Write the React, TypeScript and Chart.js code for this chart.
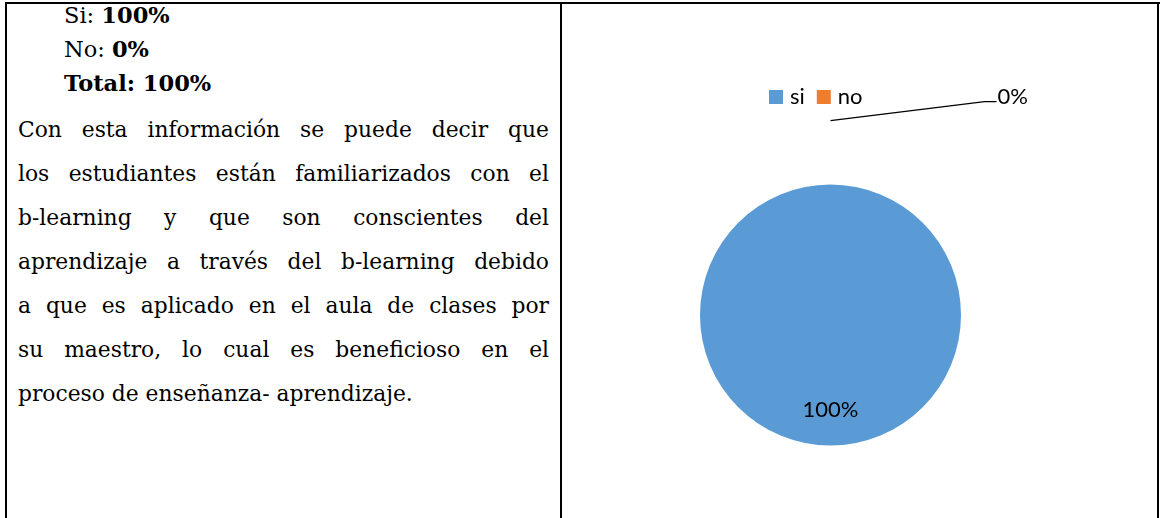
import React, { useEffect, useRef } from "react";
import { Chart, registerables } from "chart.js";

Chart.register(...registerables);

const categories = ["si", "no"];
const values = [100, 0];
const colors = ["#5B9BD5", "#ED7D31"];

const summaryLines = [
  { label: "Si: ", value: "100%" },
  { label: "No: ", value: "0%" },
];
const totalLine = "Total: 100%";
const paragraphLines = [
  "Con esta información se puede decir que",
  "los estudiantes están familiarizados con el",
  "b-learning y que son conscientes del",
  "aprendizaje a través del b-learning debido",
  "a que es aplicado en el aula de clases por",
  "su maestro, lo cual es beneficioso en el",
  "proceso de enseñanza- aprendizaje.",
];

const CHART_FONT = "Lato, 'Liberation Sans', sans-serif";

const labelsPlugin = {
  id: "excelLabels",
  afterDraw(chart: any) {
    const ctx = chart.ctx;
    const meta = chart.getDatasetMeta(0);
    const data = chart.data.datasets[0].data as number[];
    const total = data.reduce((a: number, b: number) => a + b, 0);
    const bg = chart.data.datasets[0].backgroundColor as string[];
    ctx.save();
    // legend
    ctx.font = `22px ${CHART_FONT}`;
    ctx.textBaseline = "middle";
    let lx = 207;
    const ly = 93;
    chart.data.labels.forEach((lab: string, i: number) => {
      ctx.fillStyle = bg[i];
      ctx.fillRect(lx, ly - 7, 14, 14);
      ctx.fillStyle = "#000";
      ctx.textAlign = "left";
      ctx.fillText(lab, lx + 21, ly);
      lx += 21 + ctx.measureText(lab).width + 12;
    });
    // data labels
    meta.data.forEach((arc: any, i: number) => {
      const p = arc.getProps(["x", "y", "startAngle", "endAngle", "outerRadius"], true);
      const mid = (p.startAngle + p.endAngle) / 2;
      const pct = Math.round((data[i] / total) * 100) + "%";
      ctx.fillStyle = "#000";
      ctx.font = `22px ${CHART_FONT}`;
      if (data[i] / total > 0.05) {
        const r = p.outerRadius * 0.73;
        ctx.textAlign = "center";
        ctx.fillText(pct, p.x + Math.cos(mid) * r, p.y + Math.sin(mid) * r);
      } else {
        const r0 = p.outerRadius * 1.49;
        const sx = p.x + Math.cos(mid) * r0;
        const sy = p.y + Math.sin(mid) * r0;
        const ex = sx + 154;
        const ey = sy - 19;
        ctx.strokeStyle = "#000";
        ctx.lineWidth = 1.2;
        ctx.beginPath();
        ctx.moveTo(sx, sy);
        ctx.lineTo(ex, ey);
        ctx.lineTo(ex + 12, ey);
        ctx.stroke();
        ctx.textAlign = "left";
        ctx.fillText(pct, ex + 13, ey - 5);
      }
    });
    ctx.restore();
  },
};

function PieChart() {
  const ref = useRef<HTMLCanvasElement>(null);
  useEffect(() => {
    if (!ref.current) return;
    const chart = new Chart(ref.current, {
      type: "pie",
      data: {
        labels: categories,
        datasets: [
          {
            data: values,
            backgroundColor: colors,
            borderWidth: 0,
          },
        ],
      },
      options: {
        animation: false,
        responsive: false,
        maintainAspectRatio: false,
        layout: { padding: { left: 138, right: 197, top: 180, bottom: 72 } },
        plugins: {
          legend: { display: false },
          tooltip: { enabled: false },
        },
      },
      plugins: [labelsPlugin],
    });
    return () => chart.destroy();
  }, []);
  return <canvas ref={ref} width={596} height={514} style={{ position: "absolute", left: 562, top: 4 }} />;
}

export default function App() {
  useEffect(() => {
    document.body.style.margin = "0";
  }, []);
  const serif = "'DejaVu Serif', 'Liberation Serif', serif";
  return (
    <div style={{ position: "relative", width: 1160, height: 518, overflow: "hidden", background: "#fff", fontFamily: serif, color: "#000" }}>
      <div style={{ position: "absolute", left: 5, top: 2, width: 1155, height: 2, background: "#000" }} />
      <div style={{ position: "absolute", left: 5, top: 2, width: 2, height: 516, background: "#000" }} />
      <div style={{ position: "absolute", left: 560, top: 2, width: 2, height: 516, background: "#000" }} />
      <div style={{ position: "absolute", left: 1157, top: 2, width: 2, height: 516, background: "#000" }} />
      <div style={{ position: "absolute", left: 64, top: -2, fontSize: 22.5, lineHeight: "34px" }}>
        {summaryLines.map((s, i) => (
          <div key={i}>
            {s.label}
            <b>{s.value}</b>
          </div>
        ))}
        <div>
          <b>{totalLine}</b>
        </div>
      </div>
      <div style={{ position: "absolute", left: 18, top: 108, width: 531, fontSize: 21.8, lineHeight: "44px" }}>
        {paragraphLines.map((l, i) => (
          <div
            key={i}
            style={{
              whiteSpace: "nowrap",
              textAlign: i === paragraphLines.length - 1 ? "left" : "justify",
              textAlignLast: i === paragraphLines.length - 1 ? "left" : "justify",
            }}
          >
            {l}
          </div>
        ))}
      </div>
      <PieChart />
    </div>
  );
}
